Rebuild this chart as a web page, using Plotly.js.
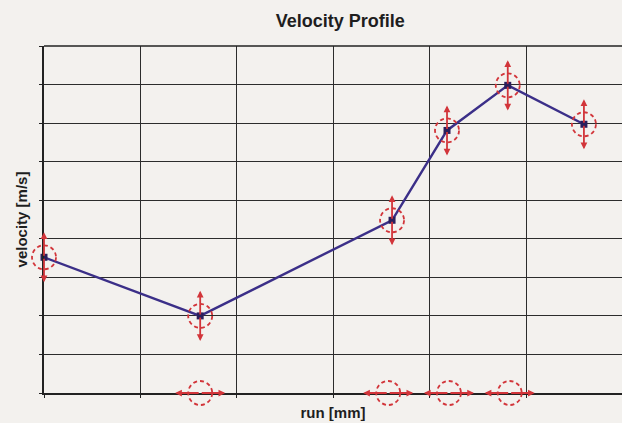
<!DOCTYPE html>
<html>
<head>
<meta charset="utf-8">
<script src="https://cdn.plot.ly/plotly-3.0.1.min.js"></script>
<style>
  html, body { margin: 0; padding: 0; background: #f3f1ee; }
  #chart { width: 622px; height: 423px; }
</style>
</head>
<body>
<div id="chart"></div>
<script>
// Data (grid units)
const runPos   = [0, 1.62, 3.61, 4.18, 4.81, 5.60];
const velocity = [3.52, 2.00, 4.48, 6.81, 7.98, 6.97];
const velErr   = [0.65, 0.65, 0.65, 0.65, 0.65, 0.65];
const runErrPos = [1.62, 3.57, 4.20, 4.83];
const runErrY   = [0, 0, 0, 0];
const runErr    = [0.26, 0.26, 0.26, 0.26];

const RED = '#d2353a';
const LINE = '#3b2f88';
const FONT = '"Liberation Sans", Arial, sans-serif';

const annotations = [];
const shapes = [];

function arrow(x, y, ax, ay) {
  annotations.push({
    x: x, y: y, ax: ax, ay: ay,
    xref: 'x', yref: 'y', axref: 'x', ayref: 'y',
    text: '', showarrow: true,
    arrowhead: 2, arrowsize: 0.75, arrowwidth: 1.8,
    arrowcolor: RED, standoff: 0, startstandoff: 0
  });
}
function dashCircle(x, y) {
  shapes.push({
    type: 'circle', xref: 'x', yref: 'y',
    xsizemode: 'pixel', ysizemode: 'pixel',
    xanchor: x, yanchor: y,
    x0: -12, x1: 12, y0: -12, y1: 12,
    line: { color: RED, width: 1.8, dash: '4px,3px' },
    layer: 'above'
  });
}

for (let i = 0; i < runPos.length; i++) {
  arrow(runPos[i], velocity[i] + velErr[i], runPos[i], velocity[i]);
  arrow(runPos[i], velocity[i] - velErr[i], runPos[i], velocity[i]);
  dashCircle(runPos[i], velocity[i]);
}
for (let i = 0; i < runErrPos.length; i++) {
  arrow(runErrPos[i] - runErr[i], runErrY[i], runErrPos[i], runErrY[i]);
  arrow(runErrPos[i] + runErr[i], runErrY[i], runErrPos[i], runErrY[i]);
  dashCircle(runErrPos[i], runErrY[i]);
}

const trace = {
  x: runPos, y: velocity,
  type: 'scatter', mode: 'lines+markers',
  line: { color: LINE, width: 2.4 },
  marker: { symbol: 'square', size: 7, color: '#2a1f5c' },
  cliponaxis: false,
  hoverinfo: 'x+y'
};

const layout = {
  width: 622, height: 423,
  margin: { l: 44, r: 0, t: 46, b: 30, pad: 0 },
  paper_bgcolor: '#f3f1ee',
  plot_bgcolor: '#f3f1ee',
  showlegend: false,
  title: {
    text: '<b>Velocity Profile</b>',
    font: { family: FONT, size: 18, color: '#1e1e1e' },
    x: 0.547, xanchor: 'center', y: 0.95, yanchor: 'middle'
  },
  xaxis: {
    range: [0, 5.995],
    dtick: 1, tick0: 0,
    showgrid: true, gridcolor: '#2c2c2c', gridwidth: 1,
    zeroline: false,
    showline: true, linecolor: '#222222', linewidth: 1.6,
    ticks: 'outside', ticklen: 3, tickcolor: '#222222',
    showticklabels: false,
    fixedrange: true,
    title: { text: '<b>run [mm]</b>', font: { family: FONT, size: 15, color: '#1e1e1e' }, standoff: 11 }
  },
  yaxis: {
    range: [0, 9],
    dtick: 1, tick0: 0,
    showgrid: true, gridcolor: '#2c2c2c', gridwidth: 1,
    zeroline: false,
    showline: true, linecolor: '#222222', linewidth: 1.6,
    ticks: 'outside', ticklen: 3, tickcolor: '#222222',
    showticklabels: false,
    fixedrange: true,
    title: { text: '<b>velocity [m/s]</b>', font: { family: FONT, size: 15, color: '#1e1e1e' }, standoff: 8 }
  },
  shapes: shapes.concat([{
    type: 'line', xref: 'paper', yref: 'paper', x0: 0, x1: 1, y0: 1, y1: 1,
    line: { color: '#222222', width: 1.6 }
  }]),
  annotations: annotations
};

Plotly.newPlot('chart', [trace], layout, { displayModeBar: false, staticPlot: true }).then(function (gd) {
  // let the dashed circles spill past the axes, as in the original
  gd.querySelectorAll('.shapelayer, .shapelayer *').forEach(function (el) {
    el.removeAttribute('clip-path');
    if (el.style) el.style.clipPath = 'none';
  });
});
</script>
</body>
</html>
